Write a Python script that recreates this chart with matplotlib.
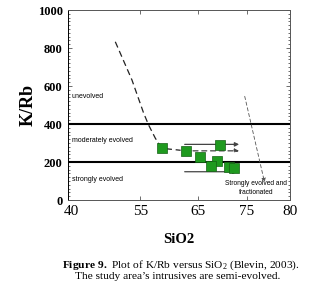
"""K/Rb versus SiO2 discrimination plot (Blevin, 2003)."""
import matplotlib
matplotlib.use("Agg")
import matplotlib.pyplot as plt
import matplotlib.transforms as mtransforms
from matplotlib.ticker import MultipleLocator

plt.rcParams["mathtext.fontset"] = "custom"
plt.rcParams["mathtext.rm"] = "Liberation Serif"
plt.rcParams["mathtext.bf"] = "Liberation Serif:bold"

# samples (SiO2 wt%, K/Rb)
sio2 = [57.0, 61.2, 67.4, 63.7, 66.8, 65.8, 69.0, 69.9]
k_rb = [272, 259, 291, 228, 207, 179, 175, 170]

# dashed evolution trend towards the samples
trend_x = [48.5, 51.5, 53.6, 54.5, 55.7, 56.5]
trend_y = [833, 632, 458, 395, 326, 289]

# boundaries between evolution fields
boundaries = [400, 200]

xticks = [40, 53.0, 63.4, 72.2, 80]
xtick_labels = ["40", "55", "65", "75", "80"]

serif = "Liberation Serif"
narrow = ["Liberation Sans Narrow", "Liberation Sans", "DejaVu Sans"]

fig = plt.figure(figsize=(3.29, 2.87), dpi=100)
ax = fig.add_axes([0.207, 0.303, 0.675, 0.662])
ax.set_xlim(40, 80)
ax.set_ylim(0, 1000)

for b in boundaries:
    ax.axhline(b, color="black", lw=1.5, zorder=2)

ax.plot(trend_x, trend_y, ls=(0, (5, 3)), color="#222", lw=0.9, zorder=3)
ax.plot([trend_x[-1], sio2[0], sio2[1]], [trend_y[-1], k_rb[0], k_rb[1]],
        ls=(0, (4, 3)), color="#222", lw=0.9, zorder=3)

arrow = dict(arrowstyle="-|>", color="#444", lw=0.9, mutation_scale=6)
ax.annotate("", xy=(71.3, 259), xytext=(62.0, 259),
            arrowprops=dict(arrow, linestyle=(0, (4, 3))))
ax.annotate("", xy=(71.3, 293), xytext=(60.5, 293), arrowprops=arrow)
ax.annotate("", xy=(71.0, 149), xytext=(60.5, 149), arrowprops=arrow)
ax.annotate("", xy=(75.5, 79), xytext=(71.7, 560),
            arrowprops=dict(arrow, color="#555", lw=0.6, linestyle=(0, (4, 3))))

ax.plot(sio2, k_rb, "s", ms=6.5, mfc="#1f9a1f", mec="#146014", mew=0.5, zorder=4)

ax.text(40.7, 544, "unevolved", fontsize=5, family=narrow, va="center")
ax.text(40.7, 316, "moderately evolved", fontsize=5, family=narrow, va="center")
ax.text(40.7, 110, "strongly evolved", fontsize=5, family=narrow, va="center")
ax.text(73.9, 64, "Strongly evolved and\nfractionated", fontsize=4.8, family=narrow,
        ha="center", va="center", linespacing=1.55)

ax.set_xticks(xticks)
ax.set_xticklabels(xtick_labels, family=serif, fontsize=11)
ax.set_yticks(range(0, 1001, 200))
ax.set_yticklabels([str(v) for v in range(0, 1001, 200)], family=serif,
                   fontsize=9, fontweight="bold")
ax.yaxis.set_minor_locator(MultipleLocator(20))
ax.tick_params(which="both", direction="in", top=True, right=True,
               color="#555", width=0.6)
ax.tick_params(which="major", length=3)
ax.tick_params(which="minor", length=1.5)
ax.tick_params(axis="x", pad=3.5)
ax.tick_params(axis="y", pad=4)
for s in ax.spines.values():
    s.set_color("#555")
    s.set_linewidth(0.7)
ax.spines["left"].set_color("black")

# the "40" label sits a little right of its tick in the original
shift = mtransforms.ScaledTranslation(3 / 100, 0, fig.dpi_scale_trans)
first = ax.get_xticklabels()[0]
first.set_transform(first.get_transform() + shift)

ax.set_xlabel("SiO2", family=serif, fontsize=10.5, fontweight="bold", labelpad=11)
ax.set_ylabel("K/Rb", family=serif, fontsize=13, fontweight="bold", labelpad=1)

fig.text(0.55, 0.077, r"$\bf{Figure\ 9.}$ Plot of K/Rb versus SiO$_2$ (Blevin, 2003).",
         family=serif, fontsize=8.2, ha="center", va="center")
fig.text(0.54, 0.036, "The study area\u2019s intrusives are semi-evolved.",
         family=serif, fontsize=8.2, ha="center", va="center")

fig.savefig("out.png", dpi=100)
